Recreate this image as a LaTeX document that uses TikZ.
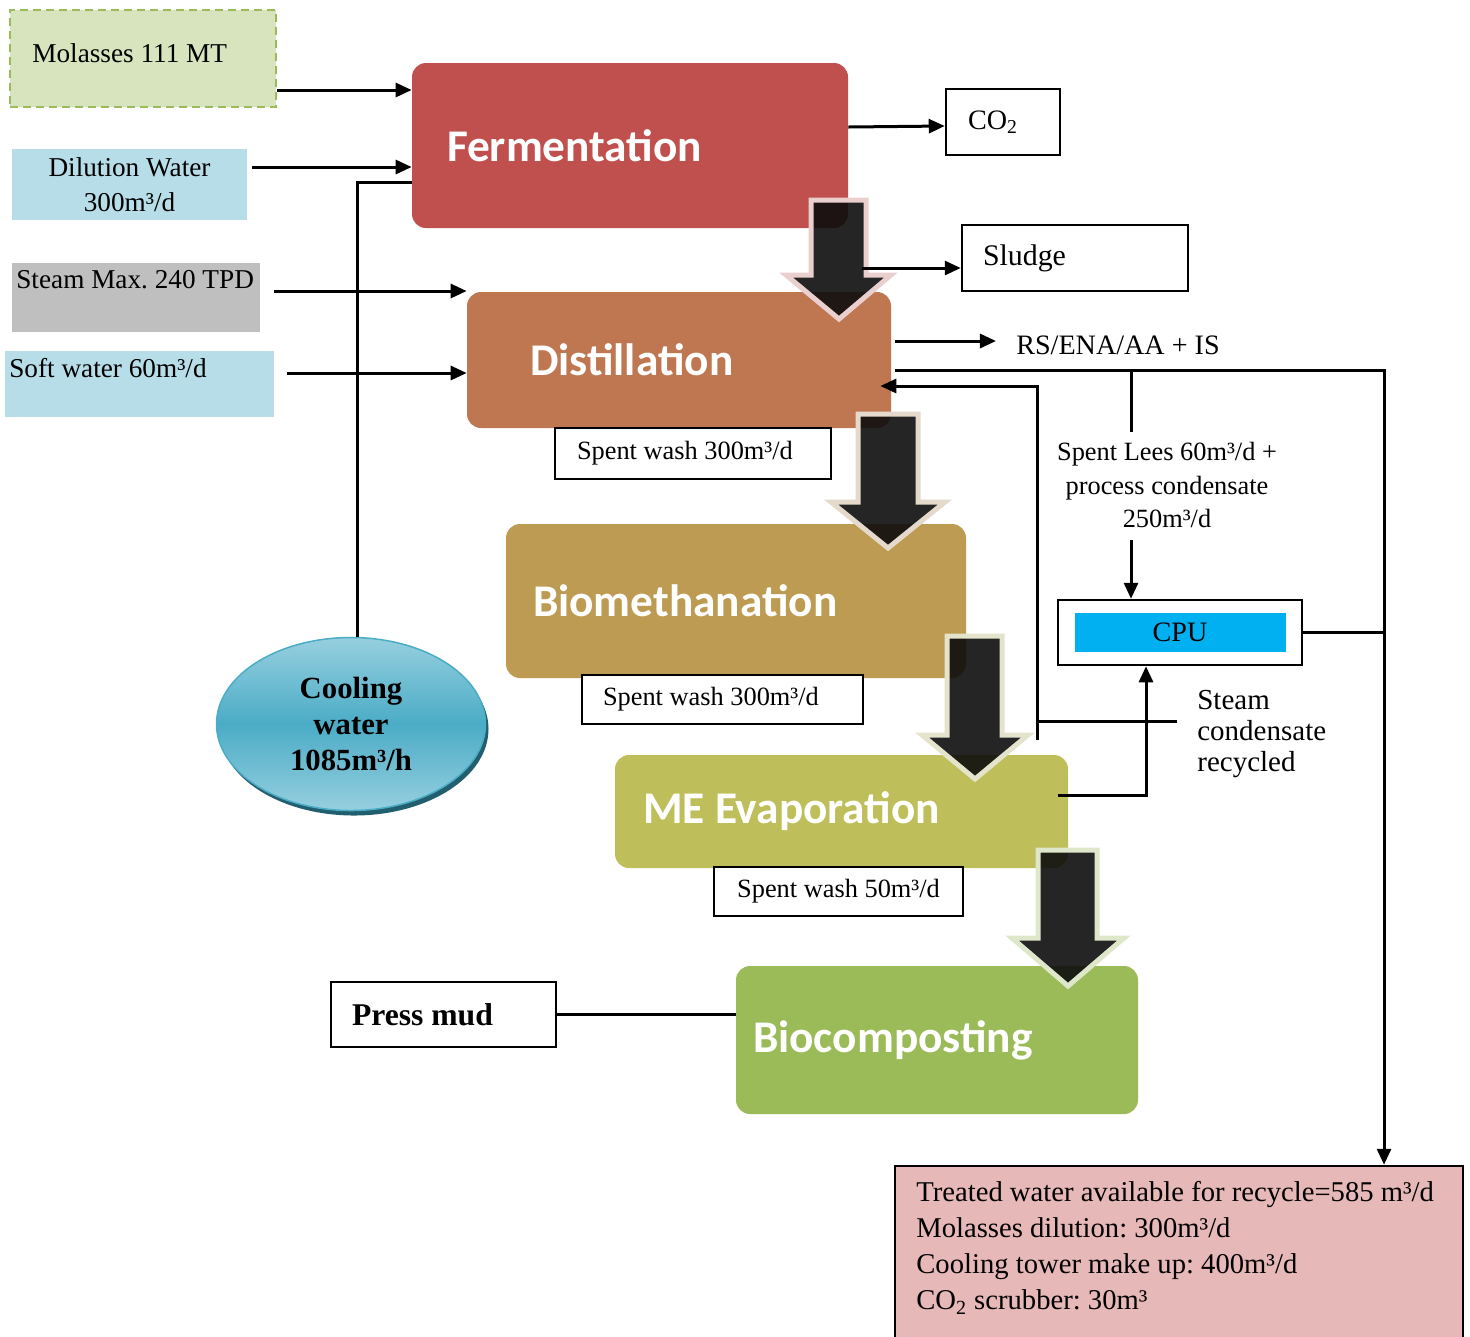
\documentclass[tikz,border=0pt]{standalone}
\usepackage{fontspec}
\setmainfont{Liberation Serif}
\newfontfamily\procfont{Carlito}
\usetikzlibrary{arrows.meta,shapes.geometric,shadows}
\frenchspacing

\definecolor{molgreen}{HTML}{D7E4BD}
\definecolor{molborder}{HTML}{9BBB59}
\definecolor{waterblue}{HTML}{B7DEE8}
\definecolor{steamgray}{HTML}{BFBFBF}
\definecolor{fermred}{HTML}{C0504D}
\definecolor{distbrown}{HTML}{BF7751}
\definecolor{biogold}{HTML}{BD9B53}
\definecolor{evapolive}{HTML}{BEBE5A}
\definecolor{compgreen}{HTML}{9BBB59}
\definecolor{cpublue}{HTML}{00B0F0}
\definecolor{treatpink}{HTML}{E6B8B7}
\definecolor{coolblue}{HTML}{4BACC6}
\definecolor{coollight}{HTML}{96CFDF}
\definecolor{coolshadow}{HTML}{215E6E}
\definecolor{rimpink}{HTML}{EACFCF}
\definecolor{rimbeige}{HTML}{E4D9CB}
\definecolor{rimcream}{HTML}{E4E4CC}
\definecolor{rimgreen}{HTML}{DFE7CB}

\begin{document}
\begin{tikzpicture}[x=0.2mm, y=-0.2mm,
		txt/.style={font=\fontsize{15.5}{20}\selectfont},
		feed/.style={rectangle, inner sep=0pt},
		proc/.style={rectangle, rounded corners=2.8mm, text=white, align=flush left, inner ysep=0pt, font=\procfont\bfseries\fontsize{25.8}{30}\selectfont},
		tag/.style={rectangle, draw, line width=0.5mm, fill=white, inner sep=0pt, font=\fontsize{15}{18}\selectfont},
		flow/.style={line width=0.6mm, -{Triangle[length=3.2mm,width=2.8mm]}},
		pipe/.style={line width=0.6mm},
		bigarrow/.style={fill=black!95, fill opacity=0.9, line width=1mm, line join=miter}]
		\useasboundingbox (0,0) rectangle (1470,1336);
		
		\node[feed, fill=molgreen, draw=molborder, dash pattern=on 1.6mm off 1mm, line width=0.5mm, minimum width=53.2mm, minimum height=19.4mm] (molasses) at (143,58.5) {};
		\node[txt, anchor=base west, inner sep=0pt] (molassestxt) at (32,62) {Molasses 111 MT};
		\node[feed, txt, fill=waterblue, minimum width=47mm, minimum height=14.2mm, align=center] (dilution) at (129.5,184.5) {Dilution Water\\300m³/d};
		\node[feed, fill=steamgray, minimum width=49.6mm, minimum height=13.8mm] (steam) at (136,297.5) {};
		\node[txt, anchor=base west, inner sep=0pt] (steamtxt) at (16,288) {Steam Max. 240 TPD};
		\node[feed, fill=waterblue, minimum width=53.8mm, minimum height=13.2mm] (soft) at (139.5,384) {};
		\node[txt, anchor=base west, inner sep=0pt] (softtxt) at (9,377) {Soft water 60m³/d};
		
		\node[proc, fill=fermred, text width=73.2mm, inner xsep=7mm, minimum height=33mm] (ferment) at (630,145.5) {Fermentation};
		\node[proc, fill=distbrown, text width=59.6mm, inner xsep=12.6mm, minimum height=27.2mm] (distil) at (679,360) {Distillation};
		\node[proc, fill=biogold, text width=81.2mm, inner xsep=5.4mm, minimum height=30.8mm] (biometh) at (736,601) {Biomethanation};
		\node[proc, fill=evapolive, text width=79.4mm, inner xsep=5.6mm, minimum height=22.6mm] (meevap) at (841.5,811.5) {ME Evaporation};
		\node[proc, fill=compgreen, text width=73.6mm, inner xsep=3.4mm, minimum height=29.6mm] (biocomp) at (937,1040) {Biocomposting};
		
		\node[tag, font=\fontsize{16}{20}\selectfont, align=flush left, text width=14mm, inner xsep=4.4mm, minimum height=13.2mm] (co2) at (1003,122) {CO\textsubscript{2}};
		\node[tag, font=\fontsize{17}{20}\selectfont, align=flush left, text width=36.8mm, inner xsep=4.2mm, minimum height=13.2mm] (sludge) at (1075,258) {Sludge};
		\node[tag, align=flush left, text width=46.4mm, inner xsep=4.4mm, minimum height=10.2mm] (washa) at (693,453.5) {Spent wash 300m³/d};
		\node[tag, align=flush left, text width=47.8mm, inner xsep=4.2mm, minimum height=9.8mm] (washb) at (722.5,699.5) {Spent wash 300m³/d};
		\node[tag, minimum width=49.8mm, minimum height=9.8mm] (washc) at (838.5,891.5) {Spent wash 50m³/d};
		\node[tag, font=\bfseries\fontsize{18}{22}\selectfont, align=flush left, text width=36.6mm, inner xsep=4.2mm, minimum height=13mm] (pressmud) at (443.5,1014.5) {Press mud};
		\node[tag, minimum width=48.8mm, minimum height=13mm] (cpu) at (1180,632.5) {};
		\node[rectangle, fill=cpublue, minimum width=42.2mm, minimum height=7.8mm, inner sep=0pt, font=\fontsize{16}{20}\selectfont] (cpuin) at (cpu.center) {CPU};
		\node[tag, fill=treatpink, minimum width=113.6mm, minimum height=35.8mm] (treated) at (1179,1255.5) {};
		\node[anchor=west, align=left, inner sep=0pt, font=\fontsize{16.3}{20.5}\selectfont] (treatedtxt) at (916,1248) {Treated water available for recycle=585 m³/d\\Molasses dilution: 300m³/d\\Cooling tower make up: 400m³/d\\CO\textsubscript{2} scrubber: 30m³};
		
		\node[inner sep=0pt, font=\fontsize{16}{20}\selectfont] (rs) at (1118,345) {RS/ENA/AA + IS};
		\node[inner sep=0pt, align=center, font=\fontsize{15}{18.8}\selectfont] (lees) at (1167,485) {Spent Lees 60m³/d +\\process condensate\\250m³/d};
		\node[anchor=west, inner sep=0pt, align=left, font=\fontsize{16.5}{17.6}\selectfont] (stcond) at (1197,734) {Steam\\condensate\\recycled};
		
		\node[ellipse, minimum width=53.8mm, minimum height=34.6mm, inner sep=0pt, draw=coolblue, line width=0.3mm, top color=coollight, bottom color=coollight, middle color=coolblue, general shadow={fill=coolshadow, shadow xshift=0.6mm, shadow yshift=-1mm}, font=\bfseries\fontsize{17.5}{20.5}\selectfont, align=center] (cool) at (351,724) {Cooling\\water\\1085m³/h};
		
		\draw[bigarrow, draw=rimpink] (811,200) -- (866,200) -- (866,275) -- (891,275) -- (839,319) -- (786,275) -- (811,275) -- cycle;
		\draw[bigarrow, draw=rimbeige] (858,414) -- (918,414) -- (918,502) -- (945,502) -- (888,548) -- (831,502) -- (858,502) -- cycle;
		\draw[bigarrow, draw=rimcream] (947,636) -- (1002,636) -- (1002,735) -- (1028,735) -- (975,779) -- (922,735) -- (947,735) -- cycle;
		\draw[bigarrow, draw=rimgreen] (1038,850) -- (1097,850) -- (1097,938) -- (1124,938) -- (1068,986) -- (1012,938) -- (1038,938) -- cycle;
		
		\draw[flow] (molasses.east |- 0,90) -- (ferment.west |- 0,90);
		\draw[flow, shorten <=1mm] (dilution.east |- 0,167) -- (ferment.west |- 0,167);
		\draw[pipe] (357,0 |- cool.north) |- (ferment.west |- 0,182);
		\draw[flow, shorten <=2.8mm] (steam.east |- 0,291) -- (distil.west |- 0,291);
		\draw[flow, shorten <=2.6mm] (soft.east |- 0,373) -- (distil.west |- 0,373);
		\draw[flow] (ferment.east |- 0,127) -- (co2.west |- 0,126);
		\coordinate (sludgeout) at (862,268);
		\draw[flow] (sludgeout) -- (sludge.west |- sludgeout);
		\draw[flow, shorten <=0.8mm, shorten >=4mm] (distil.east |- 0,341) -- (rs.west |- 0,341);
		\draw[flow, shorten <=0.8mm] (distil.east |- 0,370) -| (1384,0 |- treated.north);
		\draw[pipe, shorten >=2mm] (1131,370) -- (1131,0 |- lees.north);
		\draw[flow, shorten <=2.5mm] (1131,0 |- lees.south) -- (1131,0 |- cpu.north);
		\coordinate (recycle) at (1037,740);
		\draw[pipe] (recycle) -- (1037,721);
		\draw[flow, shorten <=4mm, shorten >=-2.2mm] (stcond.west |- 0,721) -| (1037,386) -- (distil.east |- 0,386);
		\draw[flow, shorten <=-2mm] (meevap.east |- 0,795) -| (1146,0 |- cpu.south);
		\draw[pipe] (cpu.east) -- (1384,0 |- cpu.east);
		\draw[pipe] (pressmud.east) -- (biocomp.west |- pressmud.east);
	\end{tikzpicture}
\end{document}
